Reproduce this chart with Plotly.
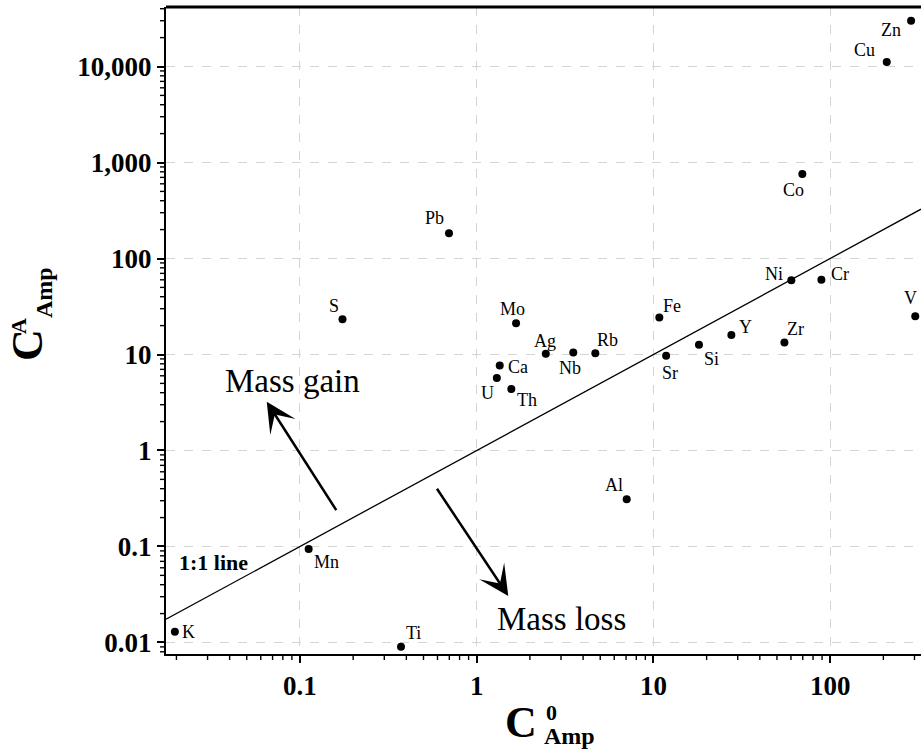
import math
import plotly.graph_objects as go

# ---------------- data ----------------
elements = ["K", "Mn", "Ti", "S", "Pb", "Mo", "Ag", "Nb", "Rb", "Ca", "U", "Th",
            "Fe", "Sr", "Si", "Y", "Al", "Co", "Ni", "Cr", "Zr", "V", "Cu", "Zn"]
c0_amp = [0.0196, 0.112, 0.373, 0.174, 0.697, 1.67, 2.46, 3.52, 4.69, 1.35, 1.30, 1.57,
          10.8, 11.8, 18.1, 27.6, 7.06, 69.6, 60.3, 89.2, 55.1, 303, 209, 287]
ca_amp = [0.0129, 0.094, 0.0090, 23.3, 183, 21.1, 10.2, 10.5, 10.3, 7.7, 5.7, 4.37,
          24.3, 9.7, 12.6, 16.0, 0.31, 759, 59.3, 60.1, 13.3, 25.0, 11150, 30000]
# label offsets in pixels (dx right, dy down) relative to each point
label_dx = [14, 18, 12, -8, -14, -4, -1, -3, 12, 18, -9, 16,
            13, 4, 13, 14, -13, -9, -17, 19, 11, -5, -22, -20]
label_dy = [0, 13, -14, -13, -15, -14, -13, 16, -13, 2, 15, 11,
            -11, 17, 14, -8, -14, 16, -6, -6, -14, -18, -12, 9]

x_tickvals = [0.1, 1, 10, 100]
x_ticktext = ["0.1", "1", "10", "100"]
y_tickvals = [0.01, 0.1, 1, 10, 100, 1000, 10000]
y_ticktext = ["0.01", "0.1", "1", "10", "100", "1,000", "10,000"]

x_range = [-1.758, 2.514]
y_range = [-2.120, 4.620]

SERIF = "Liberation Serif"

fig = go.Figure()

# 1:1 line
line_x = [10 ** x_range[0], 10 ** x_range[1]]
fig.add_trace(go.Scatter(x=line_x, y=line_x, mode="lines",
                         line=dict(color="black", width=1.3), hoverinfo="skip",
                         showlegend=False))

fig.add_trace(go.Scatter(x=c0_amp, y=ca_amp, mode="markers", text=elements,
                         marker=dict(color="black", size=8), showlegend=False))

annotations = []
for el, xv, yv, dx, dy in zip(elements, c0_amp, ca_amp, label_dx, label_dy):
    annotations.append(dict(x=math.log10(xv), y=math.log10(yv), xref="x", yref="y",
                            text=el, showarrow=False, xshift=dx, yshift=-dy,
                            xanchor="center", yanchor="middle",
                            font=dict(family=SERIF, size=18, color="black")))

# plot area geometry (pixels) for paper conversions
L, T, W, H = 166, 7, 755, 647
def px(xp):
    return (xp - L) / W
def py(yp):
    return (T + H - yp) / H

def txt(xp, yp, text, size, angle=0):
    return dict(x=px(xp), y=py(yp), xref="paper", yref="paper", text=text,
                showarrow=False, xanchor="center", yanchor="middle", textangle=angle,
                font=dict(family=SERIF, size=size, color="black"))

annotations += [
    txt(213, 562, "<b>1:1 line</b>", 22),
    txt(292, 381, "Mass gain", 33),
    txt(561, 619, "Mass loss", 33),
    # arrows
    dict(x=-1.188, y=0.508, ax=-0.789, ay=-0.6375, xref="x", yref="y", axref="x", ayref="y",
         text="", showarrow=True, arrowhead=3, arrowsize=2.0, arrowwidth=2.5, arrowcolor="black"),
    dict(x=0.1788, y=-1.5156, ax=-0.2303, ay=-0.3833, xref="x", yref="y", axref="x", ayref="y",
         text="", showarrow=True, arrowhead=3, arrowsize=2.0, arrowwidth=2.5, arrowcolor="black"),
    # x axis title C^0_Amp
    txt(521, 722, "<b>C</b>", 44),
    txt(551, 712, "<b>0</b>", 22),
    txt(569, 736, "<b>Amp</b>", 24),
    # y axis title C^A_Amp
    txt(27, 345, "<b>C</b>", 44, -90),
    txt(18, 326, "<b>A</b>", 22, -90),
    txt(44, 293, "<b>Amp</b>", 24, -90),
]

# frame top line + minor ticks (outside) drawn as shapes in paper coordinates
shapes = [dict(type="line", xref="paper", yref="paper", x0=0, x1=1, y0=1, y1=1,
               line=dict(color="black", width=3))]
MINLEN = 5
for d in range(-2, 3):
    for m in range(2, 10):
        lv = math.log10(m * 10 ** d)
        if x_range[0] < lv < x_range[1]:
            fx = (lv - x_range[0]) / (x_range[1] - x_range[0])
            shapes.append(dict(type="line", xref="paper", yref="paper", x0=fx, x1=fx,
                               y0=0, y1=-(1 + MINLEN) / H,
                               line=dict(color="black", width=1.4)))
for d in range(-3, 5):
    for m in range(2, 10):
        lv = math.log10(m * 10 ** d)
        if y_range[0] < lv < y_range[1]:
            fy = (lv - y_range[0]) / (y_range[1] - y_range[0])
            shapes.append(dict(type="line", xref="paper", yref="paper", y0=fy, y1=fy,
                               x0=0, x1=-(1 + MINLEN) / W,
                               line=dict(color="black", width=1.4)))

axis_common = dict(
    type="log", tickmode="array", showgrid=True, gridcolor="#d4d4d4", griddash="dash",
    gridwidth=1, showline=True, linecolor="black", linewidth=2,
    ticks="outside", ticklen=7, tickwidth=1.5, tickcolor="black",
    tickfont=dict(family=SERIF, size=27, color="black", weight="bold"),
    zeroline=False,
)

fig.update_layout(
    width=921, height=749,
    margin=dict(l=L, r=0, t=T, b=749 - T - H, pad=0),
    paper_bgcolor="white", plot_bgcolor="white",
    annotations=annotations,
    shapes=shapes,
    xaxis=dict(range=x_range, tickvals=x_tickvals, ticktext=x_ticktext, **axis_common),
    yaxis=dict(range=y_range, tickvals=y_tickvals, ticktext=y_ticktext, **axis_common),
)

fig.write_html("out.html")
